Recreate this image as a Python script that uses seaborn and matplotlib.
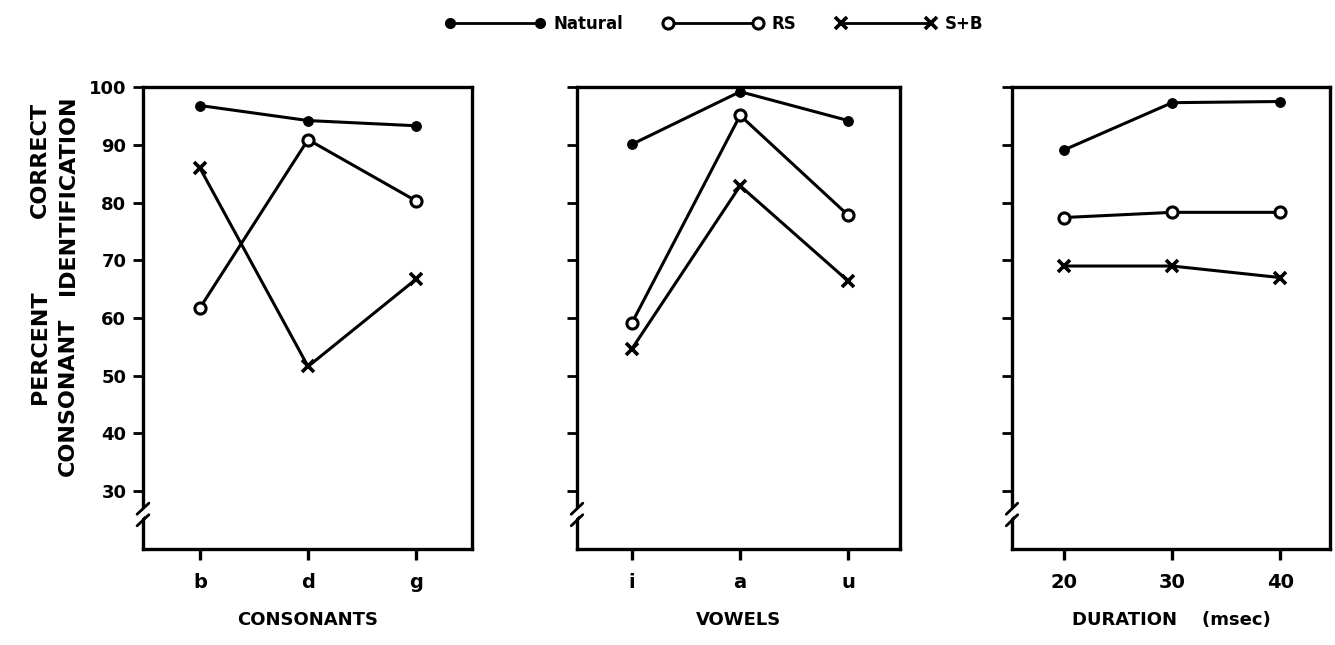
import matplotlib
matplotlib.use('Agg')
import matplotlib.pyplot as plt
import seaborn as sns
from matplotlib.lines import Line2D

# ---- data ----
consonants = ['b', 'd', 'g']
vowels = ['i', 'a', 'u']
durations = [20, 30, 40]
series = ['Natural', 'RS', 'S+B']

cons_natural = [96.8, 94.2, 93.3]
cons_rs = [61.8, 90.9, 80.3]
cons_sb = [85.9, 51.6, 66.7]

vow_natural = [90.1, 99.2, 94.2]
vow_rs = [59.2, 95.1, 77.8]
vow_sb = [54.7, 82.9, 66.4]

dur_natural = [89.1, 97.3, 97.5]
dur_rs = [77.4, 78.3, 78.3]
dur_sb = [69.0, 69.0, 67.0]

yticks = [30, 40, 50, 60, 70, 80, 90, 100]
xlabels = ['CONSONANTS', 'VOWELS', 'DURATION    (msec)']

sns.set_theme(style='white')
plt.rcParams['font.family'] = ['DejaVu Sans']
plt.rcParams['font.weight'] = 'bold'
plt.rcParams['text.color'] = 'black'
plt.rcParams['xtick.color'] = 'black'
plt.rcParams['ytick.color'] = 'black'
plt.rcParams['axes.labelcolor'] = 'black'

fig = plt.figure(figsize=(13.35, 6.45), dpi=100)
H = 0.716
B = 0.149
axes = [
    fig.add_axes([143/1335, B, 329/1335, H]),
    fig.add_axes([577/1335, B, 323/1335, H]),
    fig.add_axes([1012/1335, B, 318/1335, H]),
]

styles = {
    'Natural': dict(marker='o', markersize=7, markerfacecolor='black',
                    markeredgecolor='black'),
    'RS': dict(marker='o', markersize=8, markerfacecolor='white',
               markeredgecolor='black', markeredgewidth=2.2),
    'S+B': dict(marker='x', markersize=8, markeredgewidth=2.6,
                markeredgecolor='black'),
}

panels = [
    (consonants, [cons_natural, cons_rs, cons_sb], (-0.53, 2.52)),
    (vowels, [vow_natural, vow_rs, vow_sb], (-0.51, 2.48)),
    (durations, [dur_natural, dur_rs, dur_sb], (15.2, 44.6)),
]

for i, (ax, (xs, vals, xlim)) in enumerate(zip(axes, panels)):
    for name, v in zip(series, vals):
        sns.lineplot(x=xs, y=v, ax=ax, color='black', linewidth=2.2,
                     sort=False, legend=False, clip_on=False, **styles[name])
    ax.set_xlim(*xlim)
    ax.set_ylim(20, 100)
    ax.set_yticks(yticks)
    if isinstance(xs[0], str):
        ax.set_xticks(range(len(xs)))
        ax.set_xticklabels(xs)
    else:
        ax.set_xticks(xs)
    if i == 0:
        ax.set_yticklabels([str(t) for t in yticks])
    else:
        ax.set_yticklabels([])
    for s in ax.spines.values():
        s.set_visible(True)
        s.set_color('black')
        s.set_linewidth(2.4)
    ax.tick_params(axis='y', direction='out', length=7, width=2,
                   color='black', labelcolor='black', left=True,
                   labelsize=13, pad=5)
    ax.tick_params(axis='x', direction='out', length=8, width=2.4,
                   color='black', labelcolor='black', bottom=True,
                   labelsize=14, pad=9)
    for lab in ax.get_xticklabels() + ax.get_yticklabels():
        lab.set_fontweight('bold')
    ax.set_xlabel(xlabels[i], fontsize=13, fontweight='bold', labelpad=14,
                  color='black')
    ax.set_ylabel('')
    ax.grid(False)
    # axis break marks on the left spine
    ax.plot([-0.012, 0.012], [0.068, 0.084], transform=ax.transAxes,
            color='white', linewidth=4, clip_on=False, zorder=5)
    for yb in (0.062, 0.087):
        ax.plot([-0.018, 0.018], [yb - 0.012, yb + 0.012],
                transform=ax.transAxes, color='black', linewidth=2,
                clip_on=False, zorder=6)

# y label (two rotated lines)
yl = dict(rotation=90, ha='center', va='center', fontsize=16,
          fontweight='bold', color='black')
fig.text(40/1335, 1 - 347/645, 'PERCENT', **yl)
fig.text(40/1335, 1 - 160/645, 'CORRECT', **yl)
fig.text(68/1335, 1 - 397/645, 'CONSONANT', **yl)
fig.text(68/1335, 1 - 195/645, 'IDENTIFICATION', **yl)

# legend
handles = [Line2D([0], [0], color='black', linewidth=2, **styles[n])
           for n in series]
leg = fig.legend(handles, series, loc='upper center', ncol=3, frameon=False,
                 bbox_to_anchor=(0.535, 1.0), numpoints=2, handlelength=6.0,
                 columnspacing=2.4, handletextpad=0.5,
                 prop={'weight': 'bold', 'size': 12})
for t in leg.get_texts():
    t.set_color('black')

fig.savefig('out.png', dpi=100, facecolor='white')
